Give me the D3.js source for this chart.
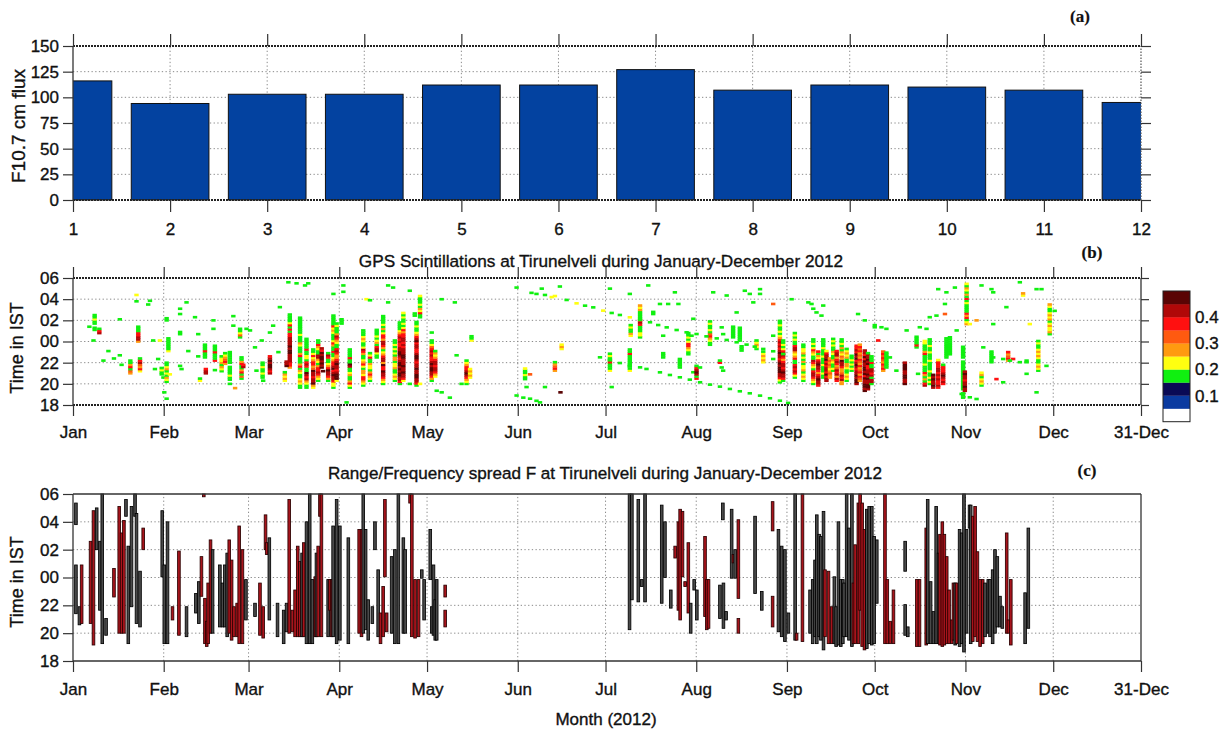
<!DOCTYPE html>
<html>
<head>
<meta charset="utf-8">
<script src="https://d3js.org/d3.v7.min.js"></script>
<title>F10.7, GPS scintillations and spread F at Tirunelveli, 2012</title>
<style>
body { margin: 0; background: #fff; }
svg { font-family: "Liberation Sans", Arial, sans-serif; }
svg text { stroke: #111; stroke-width: 0.35px; }
</style>
</head>
<body>
<svg id="chart" width="1228" height="731"></svg>
<script>

// ---- panel (a): monthly F10.7 flux ----
var monthNum = [1, 2, 3, 4, 5, 6, 7, 8, 9, 10, 11, 12];
var f107 = [116, 94, 103, 103, 112, 112, 127, 107, 112, 110, 107, 95];
var fluxTicks = [0, 25, 50, 75, 100, 125, 150];

// ---- shared time axis for (b) and (c) ----
var monthTicks = ["2012-01-01", "2012-02-01", "2012-03-01", "2012-04-01", "2012-05-01", "2012-06-01",
  "2012-07-01", "2012-08-01", "2012-09-01", "2012-10-01", "2012-11-01", "2012-12-01", "2012-12-31"];
var hourTicks = [0, 2, 4, 6, 8, 10, 12];   // hours after 18 IST

// ---- panel (b): S4 columns [day of year, start hour after 18 IST, levels bottom->top, 0.2 h each] ----
// level digit n means S4 between n*0.05 and (n+1)*0.05, "." = no data
var s4Cols = [
  [5.6, 7.3, "3"], [7.0, 6.0, "3"], [7.4, 7.0, "33.33433"], [9.0, 6.7, "873"], [10.4, 4.1, "3"],
  [12.1, 5.0, "3"], [14.0, 4.3, "3"], [16.0, 4.6, "3"], [16.0, 8.0, "3"], [16.6, 3.7, "3"],
  [19.6, 2.9, "5637533"], [21.7, 10.3, "4"], [21.7, 9.7, "3"], [22.3, 5.9, "58877333"], [22.9, 3.1, "4756873"],
  [25.7, 9.4, "3"], [26.3, 9.75, "3"], [27.4, 6.0, "3"], [28.0, 3.3, "3"], [29.1, 4.25, "3"], [29.7, 6.0, "4"],
  [30.3, 2.8, "3343"], [30.9, 2.5, "3"], [31.2, 1.1, "3"], [32.0, 0.5, "3"], [32.0, 7.9, "33"],
  [32.6, 5.0, "4333333"], [32.0, 2.1, "3453435433"], [33.1, 2.8, "4"],
  [36.6, 9.0, "3"], [36.6, 8.5, "3"], [36.6, 6.6, "33"], [38.8, 9.6, "3"], [39.4, 5.0, "3"], [36.6, 3.6, "3"], [37.1, 3.3, "3"],
  [41.7, 8.2, "3"], [42.8, 6.6, "3"], [42.8, 4.5, "3"], [43.4, 2.2, "43"],
  [45.1, 4.4, "3337333"], [45.4, 2.9, "887"], [48.0, 7.9, "3"], [48.0, 7.1, "3"], [48.5, 4.1, "73337333"], [48.5, 3.2, "3"],
  [50.8, 3.1, "34535443"], [52.0, 3.8, "576543"], [53.6, 2.3, "3343333.333333"],
  [54.8, 8.3, "3"], [54.8, 7.4, "3"], [55.4, 1.5, "5"], [53.6, 1.9, "3"],
  [57.1, 6.3, "36433"], [57.6, 2.4, "36375337533"], [58.2, 3.5, "87"], [59.3, 7.1, "3"], [60.5, 6.95, "3"],
  [62.2, 5.35, "3"], [62.7, 3.15, "3"], [64.5, 6.0, "3"], [64.8, 2.5, "33433433"], [65.0, 2.2, "3"],
  [67.3, 2.9, "878998987"], [67.3, 6.75, "3"], [68.4, 7.4, "3"], [70.2, 4.9, "3"], [70.7, 9.15, "3"],
  [72.4, 2.2, "45453"], [74.1, 3.45, "57788889989888877373743333"], [73.0, 3.6, "988"],
  [73.6, 11.5, "3"], [76.4, 11.4, "3"], [79.3, 11.2, "3"], [80.4, 11.4, "3"],
  [77.6, 1.55, "3345433453753337533345333433333333"],
  [79.8, 1.55, "334587893378734433733333"],
  [82.1, 1.55, "4598878896577547433"],
  [83.8, 2.2, "34578775345883345733"],
  [85.0, 3.45, "9898998978"], [85.5, 3.1, "9"],
  [87.2, 2.2, "35788975433783"],
  [89.0, 1.55, "34478898798775433733574333454733333"],
  [90.1, 2.2, "4999878898755787334578533343"],
  [91.8, 7.6, "333"], [92.4, 11.2, "3"], [92.4, 10.6, "3"], [89.0, 10.4, "3"],
  [94.6, 1.55, "3475335433893373333"], [93.5, 0.15, "3"],
  [99.2, 1.75, "345774553475433578433454333"], [100.3, 9.9, "4"], [101.5, 9.8, "3"],
  [101.5, 2.2, "34575344533743"], [103.8, 4.4, "33488735434333"],
  [106.0, 1.9, "345788977958875435788577435343333"],
  [107.7, 11.2, "3"], [109.4, 11.0, "3"], [107.7, 9.6, "3"],
  [110.0, 2.2, "34543354435534343433"],
  [111.7, 1.9, "378899898998789988778787543333"],
  [112.9, 2.2, "478898898889988878788775743433434"],
  [115.1, 10.7, "3"], [115.1, 1.9, "3"], [116.8, 8.35, "33"],
  [117.4, 1.75, "3788998898878998778879875433433"],
  [118.6, 8.2, "33745343334"], [118.6, 1.9, "4"],
  [122.6, 2.2, "35788998987787876433"], [123.8, 2.6, "4578878875453"], [122.6, 6.75, "3"],
  [126.0, 9.9, "3"], [130.5, 9.6, "3"], [124.3, 1.25, "3"], [126.0, 1.1, "3"], [128.8, 0.6, "3"],
  [134.5, 1.9, "345789877543"], [135.7, 2.5, "45454"], [136.2, 6.0, "433"], [132.8, 1.9, "3"], [131.1, 4.6, "3"],
  [151.6, 11.0, "3"], [156.7, 10.5, "3"], [158.4, 10.4, "3"], [160.2, 10.9, "3"], [161.3, 10.3, "3"],
  [163.6, 10.1, "4"], [164.7, 10.2, "4"], [166.4, 11.1, "3"],
  [151.6, 0.8, "3"], [153.9, 0.6, "3"], [156.2, 0.5, "3"], [158.4, 0.3, "3"], [159.6, 0.15, "3"],
  [154.5, 2.35, "334334"], [156.2, 2.8, "6"], [155.0, 1.6, "3"], [161.3, 1.6, "3"],
  [164.7, 3.15, "57653"], [167.0, 5.2, "454"], [166.6, 1.1, "9"],
  [183.5, 10.9, "3"], [184.1, 1.6, "3"], [190.3, 10.4, "3"],
  [193.8, 6.3, "3443337873333545"], [190.6, 6.45, "453343"],
  [183.5, 3.15, "433373343"], [190.3, 3.15, "43333333733"],
  [196.6, 11.2, "3"], [198.3, 8.5, "33"], [200.6, 9.45, "3"], [201.7, 4.4, "333"], [201.7, 6.45, "3"],
  [205.7, 10.55, "3"], [203.4, 9.45, "3"], [206.9, 9.45, "3"], [207.4, 3.45, "33333"],
  [210.3, 4.7, "33457743433"], [212.0, 8.05, "3"], [211.4, 6.45, "3"], [212.0, 3.0, "3"],
  [213.1, 2.4, "7389873"], [214.3, 3.45, "3"], [217.7, 5.6, "334576343343"],
  [218.8, 10.55, "3"], [223.4, 10.25, "3"], [221.7, 7.24, "3"], [222.2, 6.6, "3"], [221.1, 3.9, "73"],
  [221.7, 3.45, "3"], [222.2, 3.15, "3"],
  [225.6, 6.3, "333333"], [227.9, 6.0, "3333333"], [228.5, 5.05, "333"],
  [229.6, 10.7, "3"], [231.3, 10.4, "3"], [234.8, 10.4, "3"], [234.8, 10.85, "3"], [232.5, 9.6, "3"], [226.8, 8.65, "3"],
  [233.6, 5.2, "34543"], [235.9, 3.95, "454543"], [239.3, 9.45, "6"], [239.3, 6.45, "3"], [239.3, 4.25, "3"],
  [241.6, 2.05, "347889998987889878787543433433"], [242.7, 2.2, "37889878875788743433"],
  [245.6, 9.9, "3"], [246.7, 2.5, "3478787337545887334343"], [249.6, 2.2, "345435443534354433"],
  [251.3, 9.6, "3"], [252.4, 9.45, "3"], [253.0, 9.0, "3"], [254.1, 8.65, "3"], [256.4, 9.3, "3"], [255.8, 8.35, "3"],
  [253.0, 1.9, "3457887345783345743433"], [254.7, 1.75, "78898757889874537"],
  [256.4, 2.5, "3343334333433343333"], [257.5, 2.2, "887978878798874"],
  [258.7, 2.5, "5565456565"], [259.8, 3.15, "3433453345334343"],
  [261.0, 2.2, "785878657875887"], [262.7, 1.9, "5587865578895645353433"],
  [264.4, 2.2, "3454334553354543"], [266.1, 3.15, "34343433"],
  [267.8, 1.9, "8998988789879897877"], [268.9, 2.2, "567576575675657675"],
  [270.6, 1.25, "98998897989988979788"], [271.7, 1.4, "899889898877989883"],
  [272.9, 1.9, "38838788337333"],
  [268.3, 8.5, "3"], [270.6, 7.9, "3"], [274.0, 7.25, "33"], [276.3, 7.25, "3"], [275.2, 6.0, "7"],
  [276.9, 3.15, "5767567676"], [278.0, 7.1, "3"], [278.0, 3.45, "33333333"], [279.2, 4.4, "3"],
  [281.4, 3.15, "3"], [284.3, 1.9, "98899889998"], [284.9, 6.95, "3"],
  [288.3, 5.35, "373333"], [288.8, 2.85, "3"],
  [291.1, 1.75, "8735357333433337533344"], [292.8, 1.9, "3434334333343334334333"],
  [294.0, 1.55, "8988989"], [295.7, 1.55, "78778787887774"], [297.4, 1.9, "7878987773"],
  [298.5, 4.4, "3333333333"], [299.7, 4.7, "333333333"],
  [289.4, 7.25, "3"], [291.7, 7.1, "3"], [292.8, 8.2, "3"], [295.1, 8.35, "3"], [298.0, 9.45, "3"], [298.0, 8.5, "6"],
  [295.7, 10.85, "3"], [298.5, 10.55, "3"], [301.4, 11.0, "3"],
  [304.2, 0.6, "333.33333333333333.333333"], [304.8, 1.25, "8898878898"],
  [305.4, 7.55, "54375733334373534534"],
  [302.0, 6.95, "3"], [306.5, 7.55, "4"], [308.8, 7.9, "5"], [310.5, 11.2, "3"], [313.9, 10.85, "3"], [314.5, 10.55, "3"],
  [310.5, 1.75, "3454354"], [311.1, 5.35, "3"], [313.9, 3.95, "333333"], [315.6, 2.35, "7"], [317.9, 2.05, "3"],
  [314.5, 7.55, "3"], [319.0, 9.15, "3"], [319.6, 4.1, "57657"], [321.3, 4.25, "7"], [323.6, 11.5, "3"],
  [324.7, 10.25, "45"], [327.0, 7.55, "4"], [325.9, 4.1, "3"], [325.9, 2.85, "3"], [329.3, 10.85, "3"], [331.0, 10.85, "3"],
  [329.9, 3.15, "345433454543343"], [333.8, 6.6, "354454354543345"], [335.5, 8.8, "3"], [329.3, 1.1, "3"],
  [303.7, 0.95, "3"], [306.5, 0.63, "3"], [308.8, 0.47, "3"],
  [314.5, 4.4, "3"], [317.9, 4.25, "3"], [320.2, 4.1, "3"], [323.6, 3.95, "3"], [325.9, 3.95, "3"], [332.7, 3.6, "3"]
];

// satellite tracks seen as slanted dashes [day, hour after 18 IST, level]
var trackUpper = [[168.7, 9.83, 3], [172.1, 9.51, 4], [175.0, 9.29, 3], [177.8, 9.13, 3], [181.2, 8.82, 4],
  [184.1, 8.6, 3], [186.9, 8.41, 3], [190.3, 8.19, 4], [193.8, 7.94, 3], [197.2, 7.72, 3], [200.0, 7.46, 3],
  [202.9, 7.24, 3], [206.3, 6.99, 3], [209.7, 6.77, 3], [213.1, 6.61, 3], [216.5, 6.39, 3], [220.0, 6.2, 3],
  [223.4, 6.05, 3], [226.8, 5.83, 3], [230.2, 5.61, 3], [233.0, 5.42, 3], [235.9, 5.2, 3], [239.3, 4.98, 3], [242.7, 4.72, 3]];
var trackLower = [[180.1, 4.41, 3], [183.5, 4.16, 3], [186.9, 3.87, 3], [190.3, 3.62, 3], [193.8, 3.46, 3],
  [196.0, 3.31, 3], [200.6, 2.99, 3], [204.0, 2.74, 3], [207.4, 2.52, 3], [210.8, 2.3, 3], [214.3, 2.05, 3],
  [217.7, 1.83, 3], [221.1, 1.64, 3], [224.5, 1.42, 3], [227.9, 1.2, 3], [231.3, 1.01, 3], [234.8, 0.79, 3],
  [238.2, 0.54, 3], [241.6, 0.31, 3], [244.4, 0.1, 3]];

var s4Levels = [0, 0.05, 0.1, 0.15, 0.2, 0.25, 0.3, 0.35, 0.4, 0.45];
var s4Colors = ["#ffffff", "#0a3aa0", "#0a0a55", "#10f010", "#ffff10", "#ff9a10", "#ff5a10", "#ff1010", "#b00808", "#5a0404"];
var s4Labels = [0.1, 0.2, 0.3, 0.4];

// ---- panel (c): spread F bars [day of year, start hour, end hour (after 18 IST), kind] ----
// kind F = frequency spread (red), R = range spread (black)
var spreadBars = [
  [1.0, 9.8, 11.35, "R"], [1.0, 3.4, 6.9, "R"], [2.2, 2.6, 3.9, "R"], [2.95, 2.7, 6.9, "F"], [6.0, 2.7, 8.6, "F"],
  [7.0, 1.15, 10.8, "F"], [8.1, 8.0, 11.0, "R"], [9.2, 3.65, 8.6, "R"], [10.0, 1.25, 12, "R"], [11.3, 1.85, 3.05, "R"],
  [14.0, 4.6, 6.65, "F"], [15.8, 2.0, 11.1, "F"], [16.6, 2.0, 9.2, "F"], [17.4, 2.0, 10.1, "F"], [18.1, 10.4, 11.6, "R"],
  [18.9, 1.25, 8.25, "R"], [20.0, 3.9, 11.1, "R"], [21.2, 10.4, 12, "R"], [21.7, 2.7, 10.6, "R"], [22.9, 2.45, 6.45, "R"],
  [24.0, 8.0, 9.55, "F"], [30.5, 6.05, 10.8, "R"], [31.2, 1.25, 6.9, "R"], [32.3, 1.25, 10.0, "R"], [34.0, 2.95, 3.9, "F"],
  [36.2, 1.85, 7.9, "F"], [38.8, 1.75, 3.9, "R"], [42.0, 3.45, 4.85, "R"], [43.0, 2.7, 5.7, "R"], [43.9, 4.65, 7.5, "F"],
  [44.7, 11.8, 12, "F"], [45.1, 1.25, 4.5, "F"], [45.7, 1.05, 2.85, "F"], [46.2, 1.25, 5.6, "F"], [47.0, 2.0, 8.7, "F"],
  [47.7, 2.0, 8.0, "R"], [50.2, 2.45, 6.9, "R"], [51.1, 2.45, 5.6, "R"], [51.9, 2.45, 6.9, "R"], [52.7, 1.75, 7.75, "R"],
  [53.4, 2.0, 8.7, "F"], [54.2, 1.5, 7.25, "F"], [55.0, 1.75, 3.9, "F"], [56.1, 1.75, 4.15, "F"], [56.8, 1.25, 9.7, "F"],
  [57.9, 1.25, 8.0, "F"], [59.1, 2.95, 5.85, "R"], [62.2, 3.2, 4.15, "R"], [63.9, 1.85, 5.6, "F"], [65.0, 1.65, 3.9, "F"],
  [65.8, 8.0, 10.5, "F"], [66.2, 7.65, 8.5, "F"], [67.1, 2.95, 8.85, "R"], [69.9, 1.75, 4.15, "R"], [72.0, 1.25, 3.65, "R"],
  [73.0, 2.1, 4.15, "R"], [73.9, 2.0, 11.6, "F"], [75.0, 2.1, 3.65, "F"], [75.9, 1.75, 5.1, "F"], [76.8, 1.75, 8.25, "F"],
  [77.5, 1.75, 7.15, "F"], [78.3, 1.75, 7.75, "R"], [78.9, 1.75, 8.5, "F"], [79.8, 1.25, 10.0, "R"], [80.9, 1.25, 12, "R"],
  [81.8, 1.25, 5.85, "R"], [82.8, 1.75, 6.05, "F"], [83.2, 1.75, 7.75, "R"], [83.8, 1.75, 8.25, "F"], [84.4, 10.4, 12, "F"],
  [84.9, 1.75, 12, "F"], [87.2, 1.75, 5.85, "R"], [87.8, 3.65, 5.85, "F"], [88.4, 1.75, 5.85, "F"], [88.9, 1.75, 9.7, "R"],
  [90.1, 1.25, 11.6, "R"], [91.2, 1.5, 9.7, "R"], [94.1, 1.25, 8.85, "R"], [97.8, 2.0, 9.45, "F"], [98.6, 1.75, 9.45, "F"],
  [99.2, 2.0, 12, "R"], [100.0, 2.25, 9.45, "R"], [100.9, 1.5, 4.4, "R"], [102.3, 2.7, 3.9, "R"], [103.2, 8.0, 10.0, "R"],
  [104.3, 1.75, 6.55, "R"], [105.1, 1.25, 3.45, "F"], [106.0, 1.75, 5.35, "F"], [106.6, 6.05, 11.6, "F"], [107.2, 2.1, 3.45, "F"],
  [108.9, 2.0, 7.5, "R"], [110.0, 1.25, 8.0, "R"], [111.2, 1.25, 12, "R"], [112.9, 2.0, 8.85, "R"], [113.5, 2.0, 8.0, "R"],
  [115.2, 11.35, 12, "F"], [115.8, 1.75, 12, "F"], [116.9, 1.65, 5.85, "F"], [118.1, 1.75, 5.85, "F"], [119.2, 5.95, 6.55, "R"],
  [120.0, 2.95, 5.85, "R"], [122.1, 5.85, 9.45, "R"], [122.6, 2.0, 3.9, "R"], [123.2, 1.85, 6.9, "R"], [123.8, 1.5, 4.4, "R"],
  [124.3, 1.5, 5.85, "R"], [127.2, 4.6, 5.45, "F"], [127.2, 2.45, 3.65, "F"],
  [190.2, 2.25, 12, "R"], [191.0, 4.4, 12, "R"], [193.2, 4.25, 11.6, "R"], [194.4, 5.35, 5.85, "R"], [195.5, 4.25, 12, "R"],
  [201.2, 4.15, 11.2, "R"], [202.3, 6.0, 10.0, "R"], [204.3, 3.8, 5.1, "R"], [205.8, 7.4, 8.25, "F"], [206.9, 3.65, 10.0, "F"],
  [207.5, 2.95, 10.9, "F"], [208.3, 6.05, 10.75, "F"], [209.2, 5.35, 5.7, "F"], [210.3, 3.45, 8.5, "F"], [211.1, 2.0, 4.15, "R"],
  [212.3, 5.1, 5.85, "R"], [213.2, 2.95, 5.1, "R"], [216.0, 3.2, 8.95, "F"], [216.6, 2.25, 5.85, "F"], [217.2, 2.35, 5.85, "F"],
  [221.1, 3.05, 5.45, "R"], [222.1, 10.15, 11.35, "R"], [222.3, 2.35, 5.6, "R"], [223.2, 2.95, 3.55, "R"], [225.1, 5.95, 10.9, "R"],
  [225.7, 7.05, 7.65, "F"], [226.3, 5.95, 8.0, "R"], [227.4, 4.5, 10.15, "F"], [227.4, 2.0, 3.05, "F"], [233.1, 4.85, 10.4, "R"],
  [235.4, 3.65, 5.0, "R"], [239.1, 9.35, 11.45, "F"], [239.1, 2.45, 4.65, "F"], [241.1, 2.1, 9.45, "R"], [242.2, 1.75, 8.25, "R"],
  [243.3, 1.4, 8.0, "R"], [244.5, 2.0, 3.45, "R"], [246.8, 1.5, 12, "R"], [247.3, 1.5, 2.0, "F"], [249.3, 1.4, 12, "F"],
  [251.9, 2.0, 5.1, "R"], [252.8, 1.25, 5.85, "R"], [253.6, 1.75, 7.25, "R"], [254.2, 1.25, 10.5, "R"], [255.0, 1.75, 9.1, "R"],
  [255.6, 1.5, 8.95, "R"], [256.5, 0.8, 10.75, "R"], [257.0, 1.75, 6.55, "F"], [258.2, 1.25, 6.45, "F"], [259.3, 1.25, 3.9, "F"],
  [260.2, 1.25, 6.05, "R"], [260.8, 1.05, 3.9, "R"], [261.6, 1.15, 10.0, "R"], [262.4, 1.05, 5.85, "R"], [263.1, 1.25, 5.85, "R"],
  [263.5, 1.75, 5.6, "R"], [264.4, 1.75, 12, "R"], [265.2, 1.5, 9.55, "R"], [266.2, 1.05, 12, "R"], [266.7, 1.25, 5.6, "F"],
  [267.3, 1.25, 8.35, "F"], [268.4, 1.25, 11.35, "F"], [269.0, 3.65, 12, "F"], [269.7, 1.05, 11.35, "F"], [270.5, 0.8, 9.45, "F"],
  [271.3, 0.9, 10.9, "R"], [272.1, 1.25, 11.1, "R"], [273.0, 1.15, 11.1, "R"], [273.8, 1.25, 8.95, "R"], [274.7, 4.15, 8.7, "R"],
  [277.5, 1.25, 12, "F"], [278.3, 1.25, 5.85, "F"], [279.3, 1.25, 2.85, "F"], [280.4, 1.25, 5.1, "F"], [284.4, 6.45, 8.6, "R"],
  [284.4, 1.85, 4.05, "R"], [285.3, 1.75, 2.45, "R"], [288.4, 1.05, 5.85, "F"], [289.3, 1.05, 5.85, "F"], [291.6, 1.15, 9.55, "F"],
  [292.1, 1.25, 11.6, "R"], [293.1, 1.25, 5.7, "R"], [294.1, 1.25, 3.55, "R"], [295.0, 1.25, 11.1, "R"], [295.8, 1.25, 7.75, "R"],
  [296.3, 1.15, 9.1, "F"], [297.1, 1.05, 10.0, "F"], [297.8, 1.15, 9.1, "F"], [298.6, 1.25, 7.5, "F"], [299.4, 1.25, 5.1, "F"],
  [300.3, 1.25, 2.95, "F"], [300.9, 1.5, 5.6, "F"], [301.5, 1.15, 5.6, "R"], [302.0, 1.25, 5.6, "F"], [303.0, 1.05, 9.45, "R"],
  [303.7, 1.25, 9.2, "R"], [304.5, 0.65, 12, "R"], [305.4, 2.0, 9.45, "R"], [306.4, 9.55, 11.2, "R"], [306.8, 1.25, 11.2, "R"],
  [307.5, 1.4, 10.4, "F"], [308.3, 1.75, 11.1, "F"], [309.1, 1.4, 7.85, "F"], [310.0, 1.05, 5.85, "F"], [310.9, 1.25, 5.85, "F"],
  [311.7, 1.75, 5.6, "R"], [312.8, 2.0, 5.85, "R"], [313.4, 1.75, 5.85, "R"], [314.3, 1.25, 6.55, "R"], [315.1, 2.0, 8.0, "R"],
  [315.9, 2.45, 7.5, "R"], [316.8, 2.45, 4.65, "R"], [317.6, 2.35, 3.9, "R"], [319.1, 2.0, 9.2, "F"], [319.7, 2.0, 2.95, "F"],
  [320.5, 1.15, 5.85, "F"], [325.4, 1.25, 4.9, "R"], [326.5, 2.35, 9.55, "R"]
];

var FONT = '"Liberation Sans", Arial, sans-serif';
var L = 73, R = 1141;
var svg = d3.select("#chart");
var parseDay = d3.utcParse("%Y-%m-%d");
var t0 = parseDay("2012-01-01");
function dayDate(d) { return new Date(t0.getTime() + d * 864e5); }
var monthDates = monthTicks.map(parseDay);
var fmtMonth = d3.utcFormat("%b");
function monthLabel(d) { return (d.getUTCMonth() == 11 && d.getUTCDate() == 31) ? "31-Dec" : fmtMonth(d); }
function hourLabel(h) { return d3.format("02")((18 + h) % 24); }

function styleAxis(g, labels) {
  g.attr("font-size", 17).attr("font-family", FONT);
  g.select(".domain").remove();
  g.selectAll(".tick line").attr("stroke", "#333").attr("stroke-width", 1.2);
  g.selectAll(".tick text").attr("fill", "#111");
  if (!labels) g.selectAll(".tick text").remove();
}

function gridLines(g, xs, ys, x, y) {
  var gg = g.append("g").attr("stroke", "#8a8a8a").attr("stroke-width", 1).attr("stroke-dasharray", "1.3,2.4");
  gg.selectAll(".gx").data(xs).enter().append("line")
    .attr("x1", function(d) { return x(d); }).attr("x2", function(d) { return x(d); })
    .attr("y1", y.range()[0]).attr("y2", y.range()[1]);
  gg.selectAll(".gy").data(ys).enter().append("line")
    .attr("x1", L).attr("x2", R)
    .attr("y1", function(d) { return y(d); }).attr("y2", function(d) { return y(d); });
}

function hline(g, y, style) {
  var l = g.append("line").attr("x1", L).attr("x2", R).attr("y1", y).attr("y2", y);
  if (style == "dot") l.attr("stroke", "#222").attr("stroke-width", 1.8).attr("stroke-dasharray", "2,1");
  else l.attr("stroke", "#333").attr("stroke-width", 1.3);
}
function vline(g, x, y0, y1, style) {
  var l = g.append("line").attr("x1", x).attr("x2", x).attr("y1", y0).attr("y2", y1);
  if (style == "dot") l.attr("stroke", "#555").attr("stroke-width", 1.2).attr("stroke-dasharray", "1.5,1.5");
  else l.attr("stroke", "#333").attr("stroke-width", 1.3);
}

function yTitle(text, x, y, size) {
  svg.append("text").attr("transform", "translate(" + x + "," + y + ") rotate(-90)")
    .attr("text-anchor", "middle").attr("font-size", size).attr("fill", "#111").text(text);
}
function panelTag(text, x, y) {
  svg.append("text").attr("x", x).attr("y", y).attr("text-anchor", "middle")
    .attr("font-family", '"Liberation Serif", "Times New Roman", serif').attr("font-weight", "bold")
    .attr("font-size", 17).attr("fill", "#111").style("stroke-width", "0.2px").text(text);
}

// ================= panel (a) =================
var xa = d3.scaleLinear().domain([1, 12]).range([L, R]);
var ya = d3.scaleLinear().domain([0, 150]).range([200, 46]);
var ga = svg.append("g");
gridLines(ga, monthNum.slice(1, -1), fluxTicks.slice(1, -1), xa, ya);

svg.append("clipPath").attr("id", "clipA").append("rect")
  .attr("x", L).attr("y", 30).attr("width", R - L).attr("height", 172);
ga.append("g").attr("clip-path", "url(#clipA)")
  .selectAll("rect").data(f107).enter().append("rect")
  .attr("x", function(d, i) { return xa(monthNum[i] - 0.4); })
  .attr("width", xa(1.8) - xa(1))
  .attr("y", function(d) { return ya(d); })
  .attr("height", function(d) { return ya(0) - ya(d); })
  .attr("fill", "#0342a0").attr("stroke", "#111").attr("stroke-width", 1);

hline(ga, ya(150), "dot");
hline(ga, ya(0), "dot");
vline(ga, L, ya(0), ya(150));
vline(ga, R, ya(0), ya(150), "dot");

styleAxis(ga.append("g").attr("transform", "translate(0,200)")
  .call(d3.axisBottom(xa).tickValues(monthNum).tickSize(12).tickPadding(11).tickFormat(d3.format("d"))), true);
styleAxis(ga.append("g").attr("transform", "translate(0,46)")
  .call(d3.axisTop(xa).tickValues(monthNum).tickSize(12)), false);
styleAxis(ga.append("g").attr("transform", "translate(" + L + ",0)")
  .call(d3.axisLeft(ya).tickValues(fluxTicks).tickSize(10).tickPadding(4)), true);
styleAxis(ga.append("g").attr("transform", "translate(" + R + ",0)")
  .call(d3.axisRight(ya).tickValues(fluxTicks).tickSize(10)), false);
yTitle("F10.7 cm flux", 25, 126, 19);
panelTag("(a)", 1080, 22);

// ================= panel (b) =================
var xt = d3.scaleUtc().domain([t0, parseDay("2012-12-31")]).range([L, R]);
var yb = d3.scaleLinear().domain([0, 12]).range([405, 278]);
var s4Color = d3.scaleThreshold().domain(s4Levels.slice(1)).range(s4Colors);
var gb = svg.append("g");
gridLines(gb, monthDates.slice(1, -1), hourTicks.slice(1, -1), xt, yb);

var cells = [];
s4Cols.forEach(function(c) {
  for (var i = 0; i < c[2].length; i++) {
    var ch = c[2][i];
    if (ch == ".") continue;
    cells.push({ day: c[0], h: c[1] + i * 0.2, s4: +ch * 0.05 + 0.025 });
  }
});
trackUpper.concat(trackLower).forEach(function(p) {
  cells.push({ day: p[0], h: p[1], s4: p[2] * 0.05 + 0.025 });
});
var cw = xt(dayDate(1.5)) - xt(dayDate(0));
gb.append("g").selectAll("rect").data(cells).enter().append("rect")
  .attr("x", function(d) { return xt(dayDate(d.day)) - cw / 2; })
  .attr("width", cw)
  .attr("y", function(d) { return yb(d.h + 0.22); })
  .attr("height", yb(0) - yb(0.22) + 0.3)
  .attr("fill", function(d) { return s4Color(d.s4); });

hline(gb, yb(12), "dot");
hline(gb, yb(0), "dot");
vline(gb, L, yb(0), yb(12));
vline(gb, R, yb(0), yb(12));

styleAxis(gb.append("g").attr("transform", "translate(0,405)")
  .call(d3.axisBottom(xt).tickValues(monthDates).tickSize(11).tickPadding(10).tickFormat(monthLabel)), true);
styleAxis(gb.append("g").attr("transform", "translate(0,278)")
  .call(d3.axisTop(xt).tickValues(monthDates).tickSize(11)), false);
styleAxis(gb.append("g").attr("transform", "translate(" + L + ",0)")
  .call(d3.axisLeft(yb).tickValues(hourTicks).tickSize(10).tickPadding(4).tickFormat(hourLabel)), true);
styleAxis(gb.append("g").attr("transform", "translate(" + R + ",0)")
  .call(d3.axisRight(yb).tickValues(hourTicks).tickSize(8)), false);

svg.append("text").attr("x", 601).attr("y", 267).attr("text-anchor", "middle")
  .attr("font-size", 17.2).attr("fill", "#111")
  .text("GPS Scintillations at Tirunelveli during January-December 2012");
yTitle("Time in IST", 23, 348, 18);
panelTag("(b)", 1092, 258);

// colour bar
var cb = d3.scaleLinear().domain([0, 0.5]).range([421.7, 291]);
var gcb = svg.append("g");
gcb.selectAll("rect").data(s4Levels).enter().append("rect")
  .attr("x", 1163).attr("width", 27)
  .attr("y", function(d) { return cb(d + 0.05); })
  .attr("height", cb(0) - cb(0.05) + 0.2)
  .attr("fill", function(d) { return s4Color(d + 0.025); });
gcb.append("rect").attr("x", 1163).attr("y", cb(0.5)).attr("width", 27).attr("height", cb(0) - cb(0.5))
  .attr("fill", "none").attr("stroke", "#222").attr("stroke-width", 1);
gcb.selectAll("text").data(s4Labels).enter().append("text")
  .attr("x", 1195).attr("y", function(d) { return cb(d) + 6; })
  .attr("font-size", 17).attr("fill", "#111").text(function(d) { return d.toFixed(1); });

// ================= panel (c) =================
var yc = d3.scaleLinear().domain([0, 12]).range([661, 494]);
var gc = svg.append("g");
gridLines(gc, monthDates.slice(1, -1), hourTicks.slice(1, -1), xt, yc);

var spreadFill = { F: "#a8141c", R: "#4a4a4a" };
var spreadEdge = { F: "#2a0000", R: "#000000" };
var bw = xt(dayDate(0.9)) - xt(dayDate(0));
gc.append("g").selectAll("rect").data(spreadBars).enter().append("rect")
  .attr("x", function(d) { return xt(dayDate(d[0])) - bw / 2; })
  .attr("width", bw)
  .attr("y", function(d) { return yc(d[2]); })
  .attr("height", function(d) { return yc(d[1]) - yc(d[2]); })
  .attr("fill", function(d) { return spreadFill[d[3]]; })
  .attr("stroke", function(d) { return spreadEdge[d[3]]; })
  .attr("stroke-width", 0.85);

hline(gc, yc(12));
hline(gc, yc(0));
vline(gc, L, yc(0), yc(12));
vline(gc, R, yc(0), yc(12));

styleAxis(gc.append("g").attr("transform", "translate(0,661)")
  .call(d3.axisBottom(xt).tickValues(monthDates).tickSize(11).tickPadding(11).tickFormat(monthLabel)), true);
styleAxis(gc.append("g").attr("transform", "translate(" + L + ",0)")
  .call(d3.axisLeft(yc).tickValues(hourTicks).tickSize(10).tickPadding(4).tickFormat(hourLabel)), true);

svg.append("text").attr("x", 605).attr("y", 479).attr("text-anchor", "middle")
  .attr("font-size", 17.1).attr("fill", "#111")
  .text("Range/Frequency spread F at Tirunelveli during January-December 2012");
yTitle("Time in IST", 23, 582, 18);
panelTag("(c)", 1087, 476);
svg.append("text").attr("x", 606).attr("y", 725).attr("text-anchor", "middle")
  .attr("font-size", 17).attr("fill", "#111").text("Month (2012)");

</script>
</body>
</html>
